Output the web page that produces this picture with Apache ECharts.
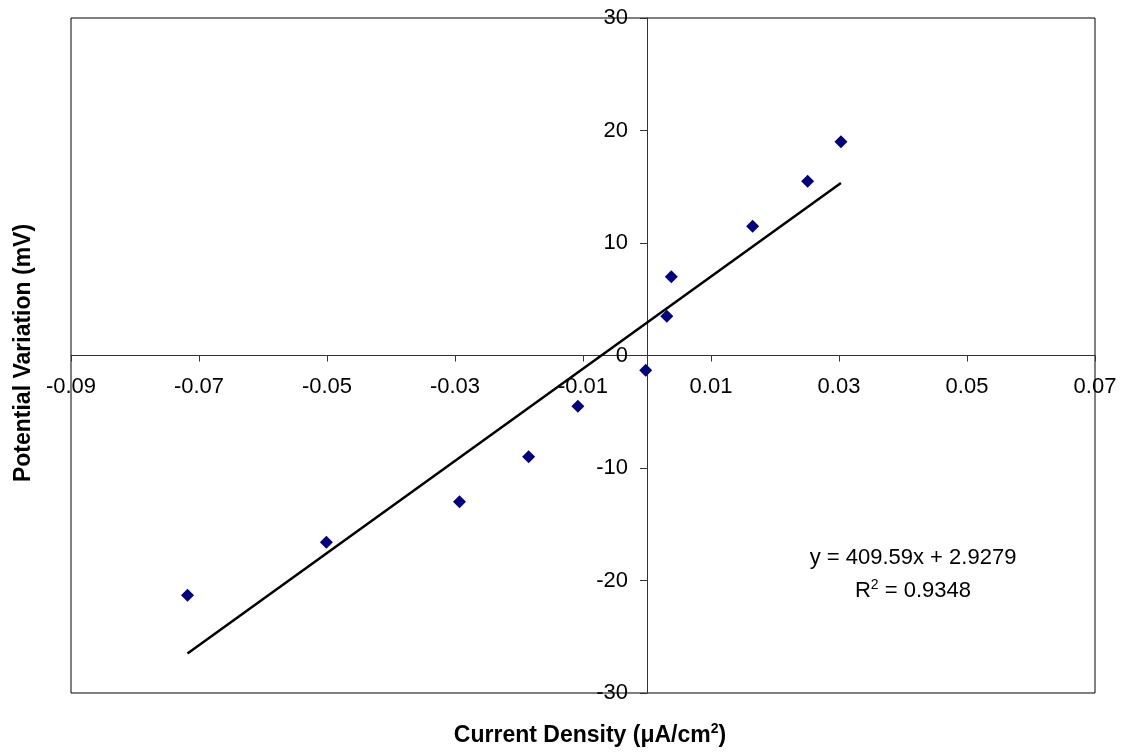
<!DOCTYPE html>
<html>
<head>
<meta charset="utf-8">
<script src="https://cdn.jsdelivr.net/npm/echarts@6/dist/echarts.min.js"></script>
<style>
html,body{margin:0;padding:0;background:#fff;}
#chart{width:1121px;height:752px;}
</style>
</head>
<body>
<div id="chart"></div>
<script>
// Measured data (current density, potential variation)
var currentDensity = [-0.0718, -0.0501, -0.0293, -0.0185, -0.0108, -0.0002, 0.0031, 0.0038, 0.0165, 0.0251, 0.0303];
var potentialVar   = [-21.3, -16.6, -13.0, -9.0, -4.5, -1.3, 3.5, 7.0, 11.5, 15.5, 19.0];
// Trendline from the displayed equation
var trendSlope = 409.59;
var trendIntercept = 2.9279;
var xTicks = [-0.09, -0.07, -0.05, -0.03, -0.01, 0.01, 0.03, 0.05, 0.07];
var yTicks = [-30, -20, -10, 0, 10, 20, 30];
var equationText = 'y = 409.59x + 2.9279';
var r2Text = '0.9348';

var points = currentDensity.map(function (x, i) { return [x, potentialVar[i]]; });
var xMin = Math.min.apply(null, currentDensity);
var xMax = Math.max.apply(null, currentDensity);
var trend = [[xMin, trendSlope * xMin + trendIntercept], [xMax, trendSlope * xMax + trendIntercept]];

var FONT = '"Liberation Sans", Arial, sans-serif';
var W = 1121, H = 752;
var G = {left: 71, right: 26, top: 18, bottom: 59};
var gw = W - G.left - G.right, gh = H - G.top - G.bottom;
var xAxMin = xTicks[0], xAxMax = xTicks[xTicks.length - 1];
var yAxMin = yTicks[0], yAxMax = yTicks[yTicks.length - 1];
// shift the axes so they cross at the origin (labels follow the axis line)
var xAxisOffset = -gh * (0 - yAxMin) / (yAxMax - yAxMin);
var yAxisOffset = -gw * (0 - xAxMin) / (xAxMax - xAxMin);

var chart = echarts.init(document.getElementById('chart'), null, {renderer: 'canvas'});
chart.setOption({
  animation: false,
  backgroundColor: '#fff',
  grid: {left: G.left, right: G.right, top: G.top, bottom: G.bottom, show: true, borderColor: '#000', borderWidth: 1, backgroundColor: 'transparent'},
  xAxis: {
    type: 'value', min: xAxMin, max: xAxMax, position: 'bottom', offset: xAxisOffset,
    axisLine: {onZero: false, lineStyle: {color: '#333', width: 1}},
    axisTick: {show: true, length: 6, lineStyle: {color: '#333'}, customValues: xTicks},
    axisLabel: {customValues: xTicks, margin: 20, fontSize: 22, color: '#000', fontFamily: FONT,
      formatter: function (v) { return v.toFixed(2); }},
    splitLine: {show: false}
  },
  yAxis: {
    type: 'value', min: yAxMin, max: yAxMax, interval: 10, position: 'left', offset: yAxisOffset,
    axisLine: {onZero: false, lineStyle: {color: '#333', width: 1}},
    axisTick: {show: true, length: 7, lineStyle: {color: '#333'}},
    axisLabel: {margin: 19, fontSize: 22, color: '#000', fontFamily: FONT},
    splitLine: {show: false}
  },
  series: [
    {
      type: 'line', data: trend, symbol: 'none', silent: true,
      lineStyle: {color: '#000', width: 2.5}, z: 2
    },
    {
      type: 'scatter', data: points, symbol: 'diamond', symbolSize: 13,
      itemStyle: {color: '#000080', opacity: 1}, z: 3
    }
  ],
  graphic: [
    {
      type: 'text', x: 24, y: 353, rotation: Math.PI / 2,
      style: {text: 'Potential Variation (mV)', font: 'bold 23px ' + FONT, fill: '#000', align: 'center', verticalAlign: 'middle'}
    },
    {
      type: 'text', x: 590, y: 735,
      style: {
        text: '{n|Current Density (μA/cm}{sup|2}{n|)}',
        fill: '#000', align: 'center', verticalAlign: 'middle',
        rich: {
          n: {font: 'bold 23px ' + FONT, fill: '#000', lineHeight: 25, verticalAlign: 'bottom'},
          sup: {font: 'bold 14px ' + FONT, fill: '#000', lineHeight: 14, verticalAlign: 'top'}
        }
      }
    },
    {
      type: 'text', x: 913, y: 558,
      style: {text: equationText, font: '22px ' + FONT, fill: '#000', align: 'center', verticalAlign: 'middle'}
    },
    {
      type: 'text', x: 913, y: 590,
      style: {
        text: '{n|R}{sup|2}{n| = ' + r2Text + '}', fill: '#000', align: 'center', verticalAlign: 'middle',
        rich: {
          n: {font: '22px ' + FONT, fill: '#000', lineHeight: 24, verticalAlign: 'bottom'},
          sup: {font: '14px ' + FONT, fill: '#000', lineHeight: 14, verticalAlign: 'top'}
        }
      }
    }
  ]
});
</script>
</body>
</html>
